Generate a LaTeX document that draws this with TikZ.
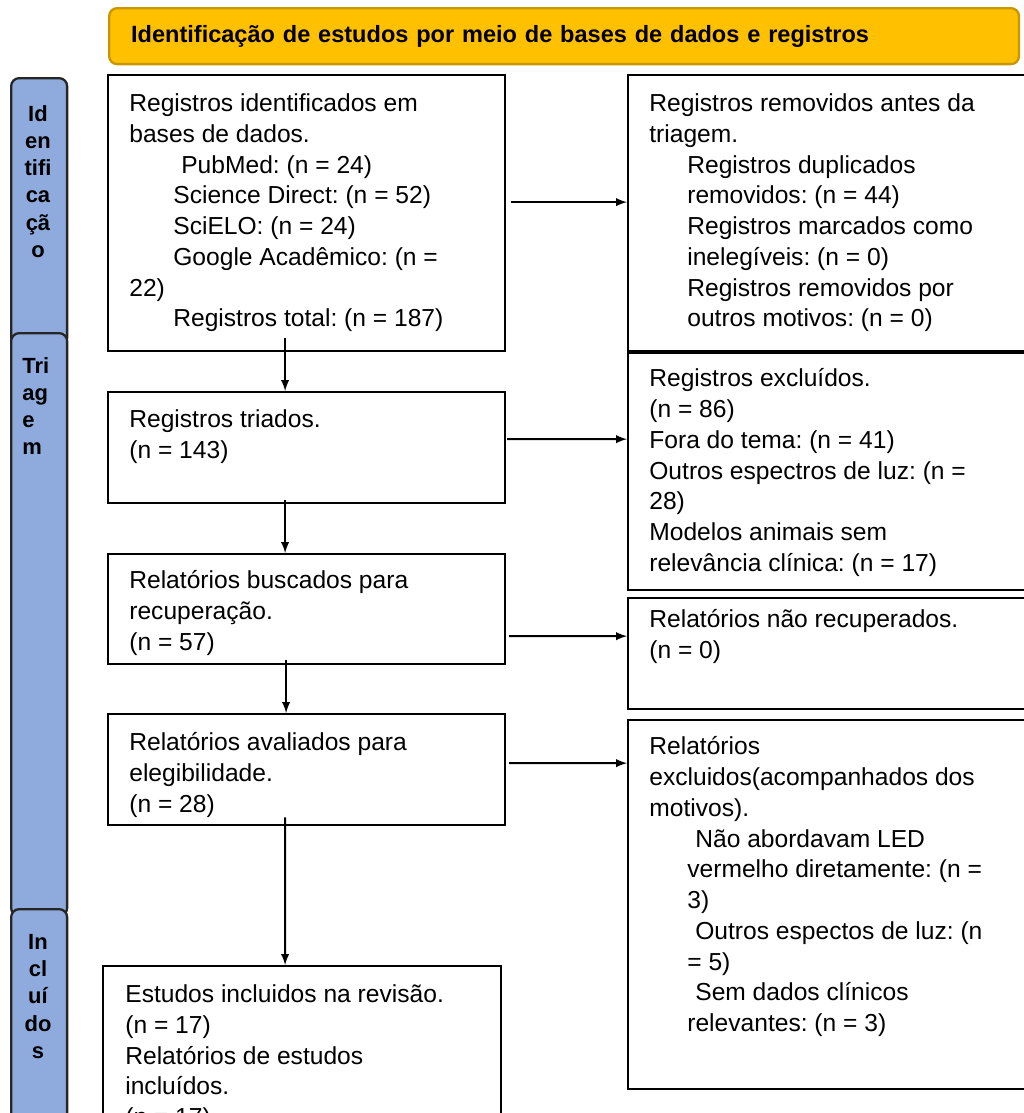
\documentclass[tikz,border=0pt]{standalone}
\usepackage{fontspec}
\setmainfont{Liberation Sans}
\usetikzlibrary{positioning, arrows}
\frenchspacing

\definecolor{headfill}{RGB}{255,192,0}
\definecolor{headline}{RGB}{199,150,0}
\definecolor{sidefill}{RGB}{143,170,220}

\begin{document}
\begin{tikzpicture}[x=0.02cm, y=-0.02cm,
    box/.style={draw, line width=1.3pt, anchor=north west, inner sep=0, minimum width=7.94cm},
    rbox/.style={box, minimum width=8.26cm},
    txt/.style={anchor=north west, align=left, inner sep=0, execute at begin node=\strut,
        font=\fontsize{14pt}{17.5pt}\selectfont},
    side/.style={draw=black!85, line width=1.3pt, fill=sidefill, rounded corners=.16cm, anchor=north west, minimum width=1.12cm, inner sep=0},
    sidetxt/.style={anchor=north, align=center, inner sep=0, execute at begin node=\strut,
        font=\fontsize{12.5pt}{15.5pt}\selectfont\bfseries},
    arr/.style={-latex, line width=1.15pt}]
    \useasboundingbox (0,0) rectangle (1024,1113);
    \clip (0,0) rectangle (1024,1113);

    \node[draw=headline, line width=1.3pt, fill=headfill, rounded corners=.16cm, anchor=north west,
          minimum height=1.12cm, text width=17.32cm, inner xsep=.44cm, inner ysep=0, align=left,
          font=\fontsize{13.4pt}{16pt}\selectfont\bfseries] (hdr) at (108,7)
          {Identificação de estudos por meio de bases de dados e registros};

    % fases
    \node[side, minimum height=5.36cm] (sId) at (10,77) {};
    \node[side, minimum height=11.66cm] (sTri) at (10,332) {};
    \node[side, minimum height=4.6cm] (sInc) at (10,908) {};
    \node[sidetxt] (tId) at (38,105) {Id\\en\\tifi\\ca\\çã\\o};
    \node[sidetxt, anchor=north west, align=left] (tTri) at (22,357) {Tri\\ag\\e\\m};
    \node[sidetxt] (tInc) at (38,934) {In\\cl\\uí\\do\\s};

    % caixas
    \node[box, minimum height=5.52cm] (A) at (107,74) {};
    \node[rbox, minimum height=5.52cm] (B) at (627,74) {};
    \node[box, minimum height=2.22cm] (C) at (107,391) {};
    \node[rbox, minimum height=4.74cm] (D) at (627,352) {};
    \node[box, minimum height=2.2cm] (E) at (107,553) {};
    \node[rbox, minimum height=2.22cm] (F) at (627,597) {};
    \node[box, minimum height=2.22cm] (G) at (107,713) {};
    \node[rbox, minimum height=7.38cm] (H) at (627,719) {};
    \node[box, minimum width=7.96cm, minimum height=3.7cm] (I) at (102,965) {};

    \node[txt] (At) at (129,93.4) {Registros identificados em\\bases de dados.\\
        \hspace*{1.04cm}PubMed: (n = 24)\\\hspace*{.88cm}Science Direct: (n = 52)\\
        \hspace*{.88cm}SciELO: (n = 24)\\\hspace*{.88cm}Google Acadêmico: (n =\\22)\\
        \hspace*{.88cm}Registros total: (n = 187)};
    \node[txt] (Bt) at (649,93.4) {Registros removidos antes da\\triagem.\\
        \hspace*{.76cm}Registros duplicados\\\hspace*{.76cm}removidos: (n = 44)\\
        \hspace*{.76cm}Registros marcados como\\\hspace*{.76cm}inelegíveis: (n = 0)\\
        \hspace*{.76cm}Registros removidos por\\\hspace*{.76cm}outros motivos: (n = 0)};
    \node[txt] (Ct) at (129,409.4) {Registros triados.\\(n = 143)};
    \node[txt] (Dt) at (649,368.4) {Registros excluídos.\\(n = 86)\\Fora do tema: (n = 41)\\
        Outros espectros de luz: (n =\\28)\\Modelos animais sem\\relevância clínica: (n = 17)};
    \node[txt] (Et) at (129,570.4) {Relatórios buscados para\\recuperação.\\(n = 57)};
    \node[txt] (Ft) at (649,609.4) {Relatórios não recuperados.\\(n = 0)};
    \node[txt] (Gt) at (129,732.4) {Relatórios avaliados para\\elegibilidade.\\(n = 28)};
    \node[txt] (Ht) at (649,736.4) {Relatórios\\excluidos(acompanhados dos\\motivos).\\
        \hspace*{.92cm}Não abordavam LED\\\hspace*{.76cm}vermelho diretamente: (n =\\
        \hspace*{.76cm}3)\\\hspace*{.92cm}Outros espectos de luz: (n\\\hspace*{.76cm}= 5)\\
        \hspace*{.92cm}Sem dados clínicos\\\hspace*{.76cm}relevantes: (n = 3)};
    \node[txt] (It) at (125,984.4) {Estudos incluidos na revisão.\\(n = 17)\\Relatórios de estudos\\
        incluídos.\\(n = 17)};

    % setas
    \draw[arr] ([xshift=.1cm,yshift=.22cm]A.east) -- ([yshift=.22cm]B.west);
    \draw[arr] ([xshift=.02cm,yshift=.17cm]C.east) -- ([yshift=.65cm]D.west);
    \draw[arr] ([xshift=.06cm,yshift=-.54cm]E.east) -- ([yshift=.35cm]F.west);
    \draw[arr] ([xshift=.06cm,yshift=.13cm]G.east) -- ([yshift=2.83cm]H.west);
    \draw[arr] ([xshift=-.43cm,yshift=.28cm]A.south) -- ([xshift=-.43cm]C.north);
    \draw[arr] ([xshift=-.43cm,yshift=.08cm]C.south) -- ([xshift=-.43cm]E.north);
    \draw[arr] ([xshift=-.41cm,yshift=.1cm]E.south) -- ([xshift=-.41cm]G.north);
    \draw[arr] ([xshift=-.43cm,yshift=.18cm]G.south) -- ([xshift=-.34cm]I.north);
\end{tikzpicture}
\end{document}
